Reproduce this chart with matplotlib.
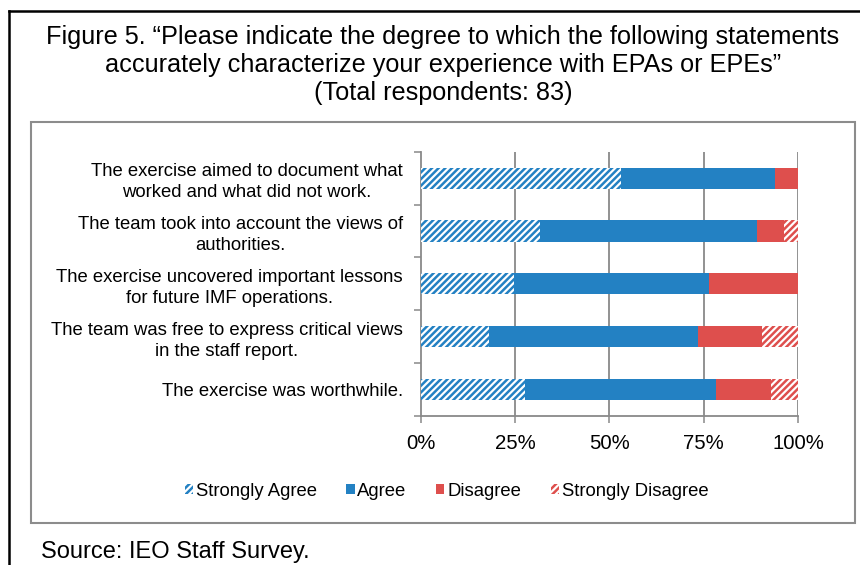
import matplotlib
matplotlib.use("Agg")
import matplotlib.pyplot as plt
from matplotlib.lines import Line2D
from matplotlib.patches import Rectangle
import numpy as np

plt.rcParams['font.family'] = ['Liberation Sans', 'DejaVu Sans']
plt.rcParams['hatch.linewidth'] = 1.8

# Survey statements (top to bottom) and response shares in percent
statements = [
    "The exercise aimed to document what\nworked and what did not work.",
    "The team took into account the views of\nauthorities.",
    "The exercise uncovered important lessons\nfor future IMF operations.",
    "The team was free to express critical views\nin the staff report.",
    "The exercise was worthwhile.",
]
strongly_agree = [53.0, 31.6, 24.6, 18.0, 27.6]
agree = [41.0, 57.5, 51.9, 55.5, 50.7]
disagree = [6.0, 7.2, 23.5, 16.9, 14.5]
strongly_disagree = [0.0, 3.7, 0.0, 9.6, 7.2]

series_names = ["Strongly Agree", "Agree", "Disagree", "Strongly Disagree"]
x_ticks = [0, 25, 50, 75, 100]
x_tick_labels = ["0%", "25%", "50%", "75%", "100%"]

title = ("Figure 5. \u201cPlease indicate the degree to which the following statements\n"
         "accurately characterize your experience with EPAs or EPEs\u201d\n"
         "(Total respondents: 83)")
source = "Source: IEO Staff Survey."

BLUE = "#2381C3"
RED = "#DE4F4D"
GRID = "#898989"

W, H = 860, 565
fig = plt.figure(figsize=(W / 100, H / 100), dpi=100)

# Outer frame (top and left edges) and the grey chart box
fig.add_artist(Line2D([9 / W, 1.0], [1 - 11 / H, 1 - 11 / H], color="black", lw=1.8,
                      transform=fig.transFigure))
fig.add_artist(Line2D([9 / W, 9 / W], [0, 1 - 11 / H], color="black", lw=1.8,
                      transform=fig.transFigure))
fig.add_artist(Rectangle((30.7 / W, 1 - 523.3 / H), (855 - 30.7) / W, (523.3 - 121.7) / H,
                         transform=fig.transFigure, fill=False, edgecolor="#8C8C8C", lw=1.5))

fig.text(443 / W, 1 - 25 / H, title, ha="center", va="top", fontsize=18.2,
         linespacing=1.22, multialignment="center")
fig.text(41 / W, 1 - 558 / H, source, ha="left", va="baseline", fontsize=17)

ax = fig.add_axes([420.7 / W, 1 - 416 / H, (798 - 420.7) / W, (416 - 151.7) / H])

y = np.arange(len(statements))
h = 0.4
left = np.zeros(len(statements))
styles = [
    dict(color="white", edgecolor=BLUE, hatch="/////", lw=0),
    dict(color=BLUE, lw=0),
    dict(color=RED, lw=0),
    dict(color="white", edgecolor=RED, hatch="/////", lw=0),
]
for name, vals, st in zip(series_names,
                          [strongly_agree, agree, disagree, strongly_disagree], styles):
    vals = np.array(vals)
    ax.barh(y, vals, height=h, left=left, label=name, zorder=3, **st)
    left += vals

ax.set_xlim(0, 100)
ax.set_ylim(len(statements) - 0.5, -0.5)
ax.set_xticks(x_ticks)
ax.set_xticklabels(x_tick_labels, fontsize=14.7)
ax.set_yticks(y)
ax.set_yticklabels(statements, fontsize=13.3, multialignment="center", linespacing=1.3)
ax.set_yticks(np.arange(-0.5, len(statements), 1), minor=True)
ax.tick_params(axis="y", which="major", length=0, pad=13)
ax.tick_params(axis="y", which="minor", length=5, width=1.1, color=GRID)
ax.tick_params(axis="x", length=5, width=1.1, color=GRID, pad=8)

for sp in ["top", "right"]:
    ax.spines[sp].set_visible(False)
for sp in ["left", "bottom"]:
    ax.spines[sp].set_color(GRID)
    ax.spines[sp].set_linewidth(1.3)

for xv in x_ticks[1:]:
    ax.axvline(xv, color=GRID, lw=1.3, zorder=1)

handles, labels = ax.get_legend_handles_labels()
fig.legend(handles, labels, loc="center", bbox_to_anchor=(446.5 / W, 1 - 491 / H),
           ncol=4, frameon=False, fontsize=13.3, handlelength=0.45, handleheight=0.45,
           handletextpad=0.15, columnspacing=1.6, borderaxespad=0)

fig.savefig("out.png", dpi=100)
